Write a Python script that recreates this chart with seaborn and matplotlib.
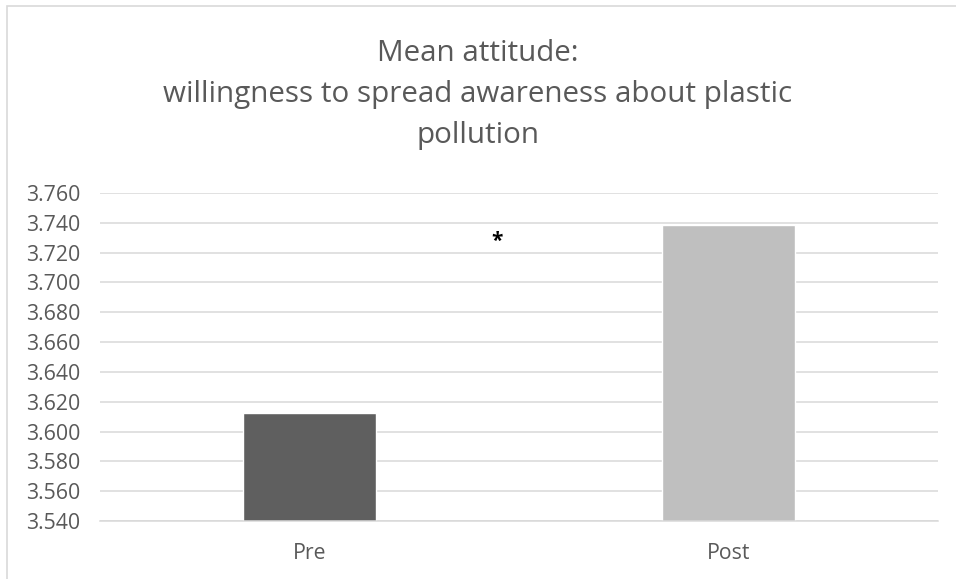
import matplotlib
matplotlib.use("Agg")
import matplotlib.pyplot as plt
import seaborn as sns
import pandas as pd
from matplotlib.patches import Rectangle

# data
categories = ["Pre", "Post"]
means = [3.6126, 3.7386]
bar_colors = ["#5f5f5f", "#bfbfbf"]
yticks = [3.540 + 0.02 * i for i in range(12)]

df = pd.DataFrame({"Phase": categories, "Mean": means})

sns.set_theme(style="white")
plt.rcParams["font.family"] = ["Open Sans", "DejaVu Sans"]

fig = plt.figure(figsize=(9.56, 5.79), dpi=100)
ax = fig.add_axes([0.1046, 0.1002, 0.8764, 0.5665])

sns.barplot(data=df, x="Phase", y="Mean", hue="Phase", palette=bar_colors,
            width=0.316, legend=False, ax=ax, saturation=1)

ax.set_ylim(3.540, 3.760)
ax.set_xlim(-0.5, 1.5)
ax.set_yticks(yticks)
ax.set_yticklabels([f"{t:.3f}" for t in yticks])
ax.yaxis.grid(True, color="#d9d9d9", linewidth=1.1)
ax.set_axisbelow(True)
ax.tick_params(axis="both", length=0, labelsize=15.3, colors="#595959")
ax.tick_params(axis="y", pad=14)
ax.tick_params(axis="x", pad=16)
ax.set_xlabel("")
ax.set_ylabel("")
for side in ["top", "right", "left"]:
    ax.spines[side].set_visible(False)
ax.spines["bottom"].set_color("#d9d9d9")
ax.spines["bottom"].set_linewidth(1.1)

# significance marker
ax.text(0.448, 3.7275, "*", ha="center", va="center", fontsize=15,
        color="black", fontweight="bold")

fig.text(0.5, 0.837, "Mean attitude:\nwillingness to spread awareness about plastic\npollution",
         ha="center", va="center", fontsize=21.3, color="#595959", linespacing=1.56)

# outer chart border
fig.patches.append(Rectangle((7 / 956, -0.01), 1.0, 1 - 6 / 579 + 0.01,
                             transform=fig.transFigure, fill=False,
                             edgecolor="#d9d9d9", linewidth=1.2))

fig.savefig("out.png", dpi=100)
